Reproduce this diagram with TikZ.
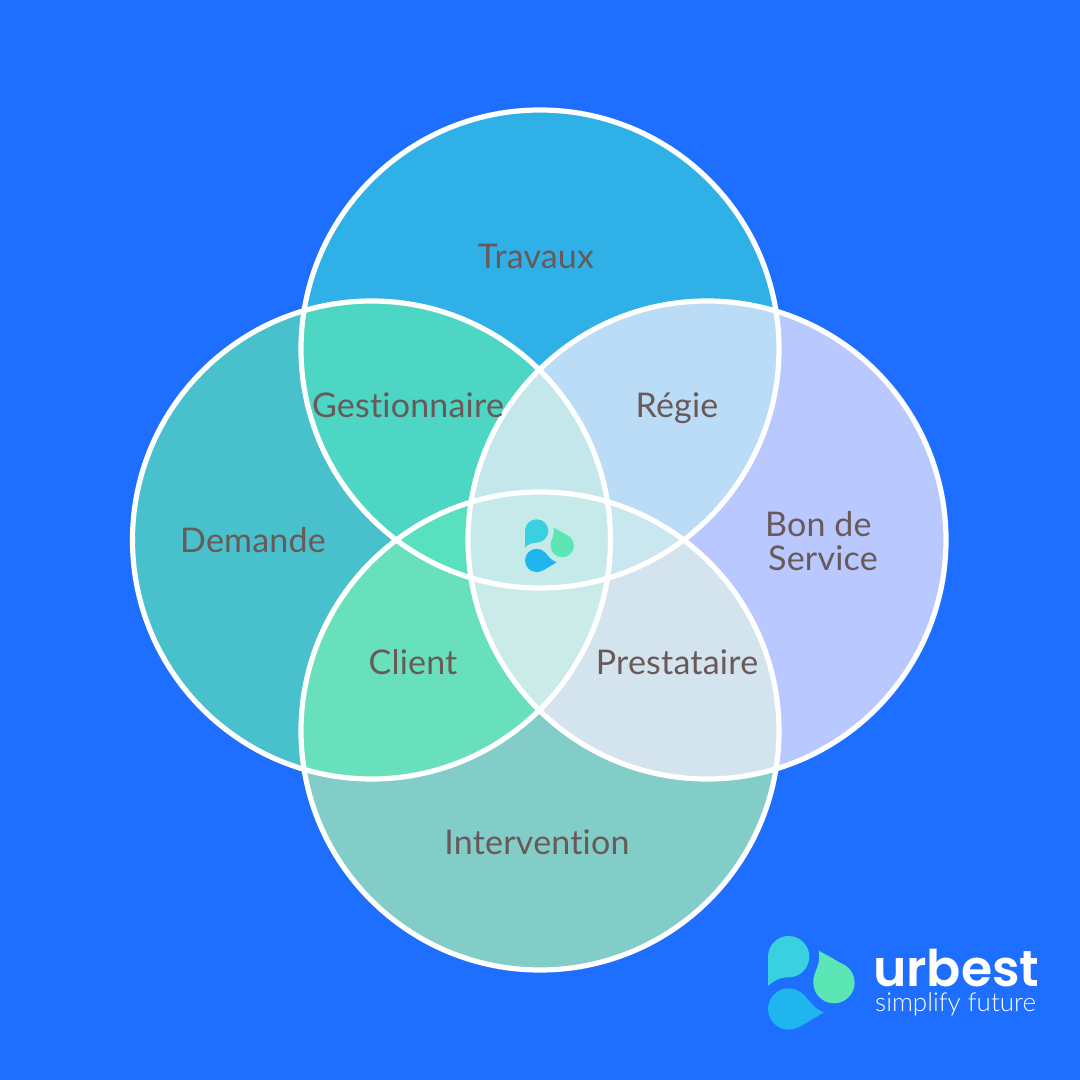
\documentclass[tikz,border=0pt]{standalone}
\usepackage{fontspec}
\setmainfont{Lato}[Ligatures=NoCommon,LetterSpace=0.6]
\newfontfamily\logobold{Poppins SemiBold}
\newfontfamily\logolight{Lato Light}
\definecolor{bgblue}{HTML}{1E6EFF}
\definecolor{txt}{HTML}{695959}
\definecolor{cT}{HTML}{2FB1E8}
\definecolor{cL}{HTML}{48C1CC}
\definecolor{cR}{HTML}{B9C8FF}
\definecolor{cB}{HTML}{82CDC8}
\definecolor{cTL}{HTML}{4DD6C3}
\definecolor{cTR}{HTML}{BBDCF7}
\definecolor{cLB}{HTML}{68E0BC}
\definecolor{cRB}{HTML}{D4E4EF}
\definecolor{cTLB}{HTML}{58E0BF}
\definecolor{cTRB}{HTML}{C8E7EE}
\definecolor{cTLR}{HTML}{C4E7EC}
\definecolor{cLRB}{HTML}{CAEBE8}
\definecolor{cALL}{HTML}{C6EAE9}
\definecolor{dropA}{HTML}{39D0DF}
\definecolor{dropB}{HTML}{5CE5B5}
\definecolor{dropC}{HTML}{1FB6EF}
\def\pT{(540,731) circle (239)}
\def\pB{(540,349) circle (239)}
\def\pL{(371.5,540) circle (239)}
\def\pR{(707,540) circle (239)}
\newcommand\regionA[3]{\begin{scope}\clip #1;\clip #2;\fill[#3] (0,0) rectangle (1080,1080);\end{scope}}
\newcommand\regionB[4]{\begin{scope}\clip #1;\clip #2;\clip #3;\fill[#4] (0,0) rectangle (1080,1080);\end{scope}}
\tikzset{
  ring/.style={draw=white,line width=5.2pt},
  label/.style={text=txt,font=\fontsize{34}{34}\selectfont,inner sep=0pt,anchor=base},
  logomark/.pic={
    \fill[dropA] (62,62) circle (62);
    \fill[dropA] (0,62) -- (0,150) .. controls (15,135) and (35,124) .. (62,124) -- cycle;
    \fill[dropB] (198,140) circle (62);
    \fill[dropB] (152,44) .. controls (185,62) and (215,78) .. (241,97) -- (198,140) -- (136,132) .. controls (140,100) and (160,85) .. cycle;
    \fill[dropC] (62,219) circle (62);
    \fill[dropC] (168,229) .. controls (140,220) and (125,195) .. (106,175) -- (62,219) -- (91,274) .. controls (115,262) and (140,245) .. cycle;
  }
}
\begin{document}
\begin{tikzpicture}[x=1pt,y=1pt]
\useasboundingbox (0,0) rectangle (1080,1080);
\fill[bgblue] (0,0) rectangle (1080,1080);
% single regions
\fill[cT] \pT;
\fill[cB] \pB;
\fill[cL] \pL;
\fill[cR] \pR;
% pairs
\regionA{\pT}{\pL}{cTL}
\regionA{\pT}{\pR}{cTR}
\regionA{\pB}{\pL}{cLB}
\regionA{\pB}{\pR}{cRB}
% triples
\regionB{\pT}{\pL}{\pB}{cTLB}
\regionB{\pT}{\pR}{\pB}{cTRB}
\regionB{\pT}{\pL}{\pR}{cTLR}
\regionB{\pB}{\pL}{\pR}{cLRB}
% all four
\begin{scope}\clip \pT;\clip \pB;\clip \pL;\clip \pR;\fill[cALL] (0,0) rectangle (1080,1080);\end{scope}
% outlines
\draw[ring] \pT;
\draw[ring] \pB;
\draw[ring] \pL;
\draw[ring] \pR;
% labels
\node[label] (travaux) at (536,811) {Travaux};
\node[label] (demande) at (253,527) {Demande};
\node[label] (gest) at (408,662) {Gestionnaire};
\node[label] (regie) at (677,662) {Régie};
\node[label,anchor=base west] (bon) at (765,543) {Bon de};
\node[label,anchor=base west] (service) at (768,509) {Service};
\node[label] (client) at (413,405) {Client};
\node[label] (prest) at (677,405) {Prestataire};
\node[label] (interv) at (537,225) {Intervention};
% logos
\pic[transform shape,yscale=-1,xscale=1,scale=0.188] at (525,560.7) {logomark};
\pic[transform shape,yscale=-1,xscale=1,scale=0.3333] at (768,144) {logomark};
\node[text=white,inner sep=0pt,anchor=base west,font=\logobold\fontsize{50.5}{50}\selectfont] (urbest) at (873,93) {urbest};
\node[text=white,inner sep=0pt,anchor=base west,font=\logolight\fontsize{26}{26}\selectfont] (simplify) at (875,68) {simplify future};
\end{tikzpicture}
\end{document}
